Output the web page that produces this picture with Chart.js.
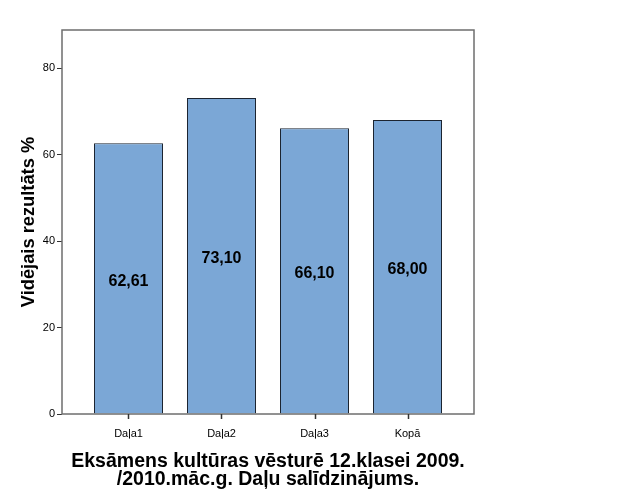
<!DOCTYPE html>
<html>
<head>
<meta charset="utf-8">
<script src="https://cdn.jsdelivr.net/npm/chart.js"></script>
<style>
  html, body { margin: 0; padding: 0; background: #fff; }
  #wrap { width: 626px; height: 501px; }
</style>
</head>
<body>
<div id="wrap"><canvas id="examChart" width="626" height="501"></canvas></div>
<script>
const categories = ['Daļa1', 'Daļa2', 'Daļa3', 'Kopā'];
const averages = [62.61, 73.10, 66.10, 68.00];
const yTicks = [0, 20, 40, 60, 80];

// bars sit on a linear x scale so the outer margin can be wider than half a slot
const points = averages.map((v, i) => ({ x: i, y: v }));

const frameAndLabels = {
  id: 'frameAndLabels',
  afterDatasetsDraw(chart) {
    const { ctx, chartArea } = chart;
    const xScale = chart.scales.x;
    ctx.save();
    ctx.strokeStyle = '#6e6e6e';
    ctx.lineWidth = 1.5;
    ctx.strokeRect(chartArea.left, chartArea.top, chartArea.right - chartArea.left, chartArea.bottom - chartArea.top);

    // small tick marks under each category
    ctx.strokeStyle = '#333';
    ctx.lineWidth = 1.5;
    categories.forEach((c, i) => {
      const px = Math.round(xScale.getPixelForValue(i)) + 0.5;
      ctx.beginPath();
      ctx.moveTo(px, chartArea.bottom);
      ctx.lineTo(px, chartArea.bottom + 5);
      ctx.stroke();
    });

    ctx.fillStyle = '#000';
    ctx.font = 'bold 16px Arial, "Liberation Sans", sans-serif';
    ctx.textAlign = 'center';
    ctx.textBaseline = 'middle';
    chart.getDatasetMeta(0).data.forEach((bar, i) => {
      const mid = (bar.y + bar.base) / 2 + 3;
      ctx.fillText(averages[i].toFixed(2).replace('.', ','), bar.x, mid);
    });
    ctx.restore();
  }
};

new Chart(document.getElementById('examChart').getContext('2d'), {
  type: 'bar',
  data: {
    datasets: [{
      data: points,
      backgroundColor: '#7ba7d6',
      borderColor: '#1c2430',
      borderWidth: 1,
      barPercentage: 0.742,
      categoryPercentage: 1
    }]
  },
  options: {
    responsive: false,
    animation: false,
    layout: { padding: { top: 30, right: 152, left: 0, bottom: 0 } },
    plugins: { legend: { display: false }, tooltip: { enabled: false } },
    scales: {
      x: {
        type: 'linear',
        min: -0.715,
        max: 3.715,
        offset: false,
        grid: { display: false },
        border: { display: false },
        afterBuildTicks(scale) {
          scale.ticks = categories.map((c, i) => ({ value: i }));
        },
        ticks: {
          color: '#000',
          font: { family: 'Arial', size: 11 },
          padding: 5,
          callback: v => categories[v]
        },
        title: {
          display: true,
          text: ['Eksāmens kultūras vēsturē 12.klasei 2009.', '/2010.māc.g. Daļu salīdzinājums.'],
          color: '#000',
          font: { family: 'Arial', size: 19.5, weight: 'bold', lineHeight: 0.95 },
          padding: { top: 4, bottom: 12 }
        },
        afterFit(scale) { scale.height = 87; }
      },
      y: {
        min: 0,
        max: 88.8,
        grid: { display: true, drawOnChartArea: false, tickLength: 5, color: '#333' },
        border: { display: false },
        ticks: { stepSize: 20, color: '#000', font: { family: 'Arial', size: 11 }, padding: 2 },
        afterBuildTicks(scale) {
          scale.ticks = yTicks.map(v => ({ value: v }));
        },
        title: {
          display: true,
          text: 'Vidējais rezultāts %',
          color: '#000',
          font: { family: 'Arial', size: 18.3, weight: 'bold' },
          padding: { top: 18, bottom: 0 }
        },
        afterFit(scale) { scale.width = 62; }
      }
    }
  },
  plugins: [frameAndLabels]
});
</script>
</body>
</html>
